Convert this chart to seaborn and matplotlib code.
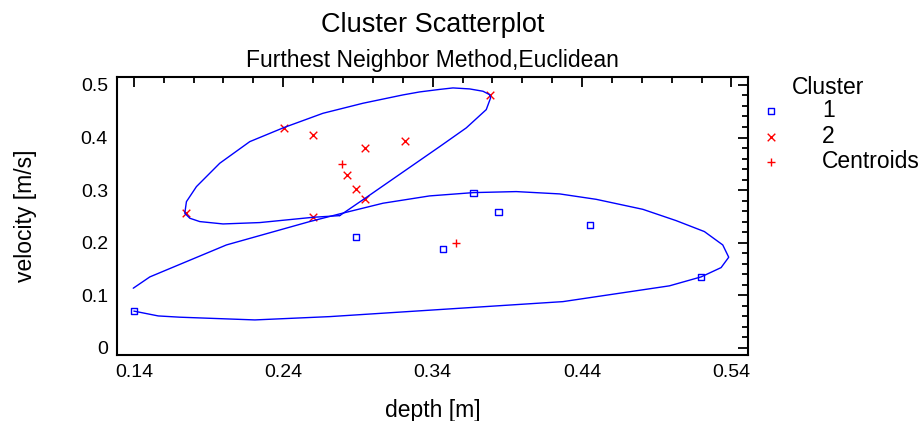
import numpy as np
import pandas as pd
import matplotlib
matplotlib.use('Agg')
import matplotlib.pyplot as plt
from matplotlib.ticker import MultipleLocator
import seaborn as sns

# cluster 1 (blue squares)
depth_1 = [0.140, 0.2885, 0.3674, 0.3841, 0.3467, 0.4452, 0.5197]
velocity_1 = [0.070, 0.211, 0.295, 0.2586, 0.1876, 0.2344, 0.135]

# cluster 2 (red crosses)
depth_2 = [0.2403, 0.2602, 0.2947, 0.3215, 0.2825, 0.2887, 0.2945, 0.1752, 0.2602, 0.3781]
velocity_2 = [0.419, 0.405, 0.381, 0.3935, 0.3295, 0.302, 0.284, 0.256, 0.248, 0.4816]

# cluster outlines
outline_1_depth = [0.1396, 0.1507, 0.1619, 0.202, 0.2577, 0.2778, 0.3068, 0.338, 0.3674, 0.396,
                   0.425, 0.4495, 0.4807, 0.503, 0.5219, 0.5342, 0.5382, 0.5331, 0.5197, 0.4985,
                   0.4272, 0.2711, 0.221, 0.1708, 0.1563, 0.140]
outline_1_velocity = [0.1135, 0.135, 0.1483, 0.1958, 0.2402, 0.2548, 0.2751, 0.289, 0.2953, 0.2972,
                      0.2928, 0.2825, 0.2635, 0.242, 0.2212, 0.1958, 0.1724, 0.1527, 0.135, 0.118,
                      0.088, 0.0595, 0.0532, 0.0584, 0.0608, 0.070]

outline_2_depth = [0.2778, 0.2945, 0.3447, 0.3625, 0.3759, 0.3788, 0.3781, 0.3737, 0.3648, 0.3536,
                   0.3447, 0.3313, 0.3201, 0.2934, 0.2666, 0.2403, 0.2176, 0.1975, 0.1819, 0.1752,
                   0.1741, 0.1775, 0.1841, 0.1997, 0.2243, 0.2602, 0.2778]
outline_2_velocity = [0.2515, 0.2839, 0.3827, 0.4183, 0.4531, 0.4753, 0.4816, 0.488, 0.4924, 0.4943,
                      0.4915, 0.4867, 0.481, 0.4652, 0.4461, 0.4188, 0.3922, 0.3511, 0.3067, 0.2781,
                      0.256, 0.2465, 0.2402, 0.2357, 0.2383, 0.2484, 0.2515]

x_ticks = [0.14, 0.24, 0.34, 0.44, 0.54]
y_ticks = [0, 0.1, 0.2, 0.3, 0.4, 0.5]

df1 = pd.DataFrame({'depth': depth_1, 'velocity': velocity_1})
df2 = pd.DataFrame({'depth': depth_2, 'velocity': velocity_2})
centroids = pd.DataFrame({'depth': [df1.depth.mean(), df2.depth.mean()],
                          'velocity': [df1.velocity.mean(), df2.velocity.mean()]})

sns.set_style('white')
plt.rcParams['font.family'] = ['Liberation Sans', 'DejaVu Sans']
plt.rcParams['text.color'] = 'black'
plt.rcParams['axes.labelcolor'] = 'black'

fig = plt.figure(figsize=(9.21, 4.21), dpi=100)
ax = fig.add_axes([0.127, 0.157, 0.685, 0.66])

sns.lineplot(x=outline_1_depth, y=outline_1_velocity, sort=False, estimator=None,
             color='blue', lw=1, ax=ax)
sns.lineplot(x=outline_2_depth, y=outline_2_velocity, sort=False, estimator=None,
             color='blue', lw=1, ax=ax)

sns.scatterplot(data=df1, x='depth', y='velocity', marker='s', s=20, color='blue',
                facecolor='none', edgecolor='blue', linewidth=1, label='1', ax=ax)
sns.scatterplot(data=df2, x='depth', y='velocity', marker='x', s=30, color='red',
                linewidth=1, label='2', ax=ax)
sns.scatterplot(data=centroids, x='depth', y='velocity', marker='+', s=40, color='red',
                linewidth=1, label='Centroids', ax=ax)

ax.set_xlim(0.1287, 0.551)
ax.set_ylim(-0.0133, 0.515)
ax.set_xticks(x_ticks)
ax.set_yticks(y_ticks)
ax.set_xticklabels([f'{v:g}' for v in x_ticks])
ax.set_yticklabels([f'{v:g}' for v in y_ticks])
ax.xaxis.set_minor_locator(MultipleLocator(0.02))
ax.yaxis.set_minor_locator(MultipleLocator(0.02))
ax.tick_params(which='both', direction='in', top=True, right=True, width=1.3,
               labelsize=14, colors='black', pad=6.5)
ax.tick_params(which='major', length=7)
ax.tick_params(which='minor', length=4)
for sp in ax.spines.values():
    sp.set_linewidth(1.5)
    sp.set_color('black')

ax.set_xlabel('depth [m]', fontsize=16.5, va='center')
ax.set_ylabel('velocity [m/s]', fontsize=16.5, va='center')
ax.xaxis.set_label_coords(0.5, -0.2)
ax.yaxis.set_label_coords(-0.145, 0.5)
fig.text(0.47, 0.9406, 'Cluster Scatterplot', ha='center', va='center', fontsize=19.5)
fig.text(0.47, 0.857, 'Furthest Neighbor Method,Euclidean', ha='center', va='center', fontsize=16.5)

ax.legend(loc='upper left', bbox_to_anchor=(1.004, 0.953), frameon=False,
          fontsize=16.5, handlelength=1, handletextpad=1.73,
          labelspacing=0.1, borderaxespad=0)
ax.text(1.0697, 0.964, 'Cluster', transform=ax.transAxes, ha='left', va='center', fontsize=16.5)

fig.savefig('out.png', dpi=100)
